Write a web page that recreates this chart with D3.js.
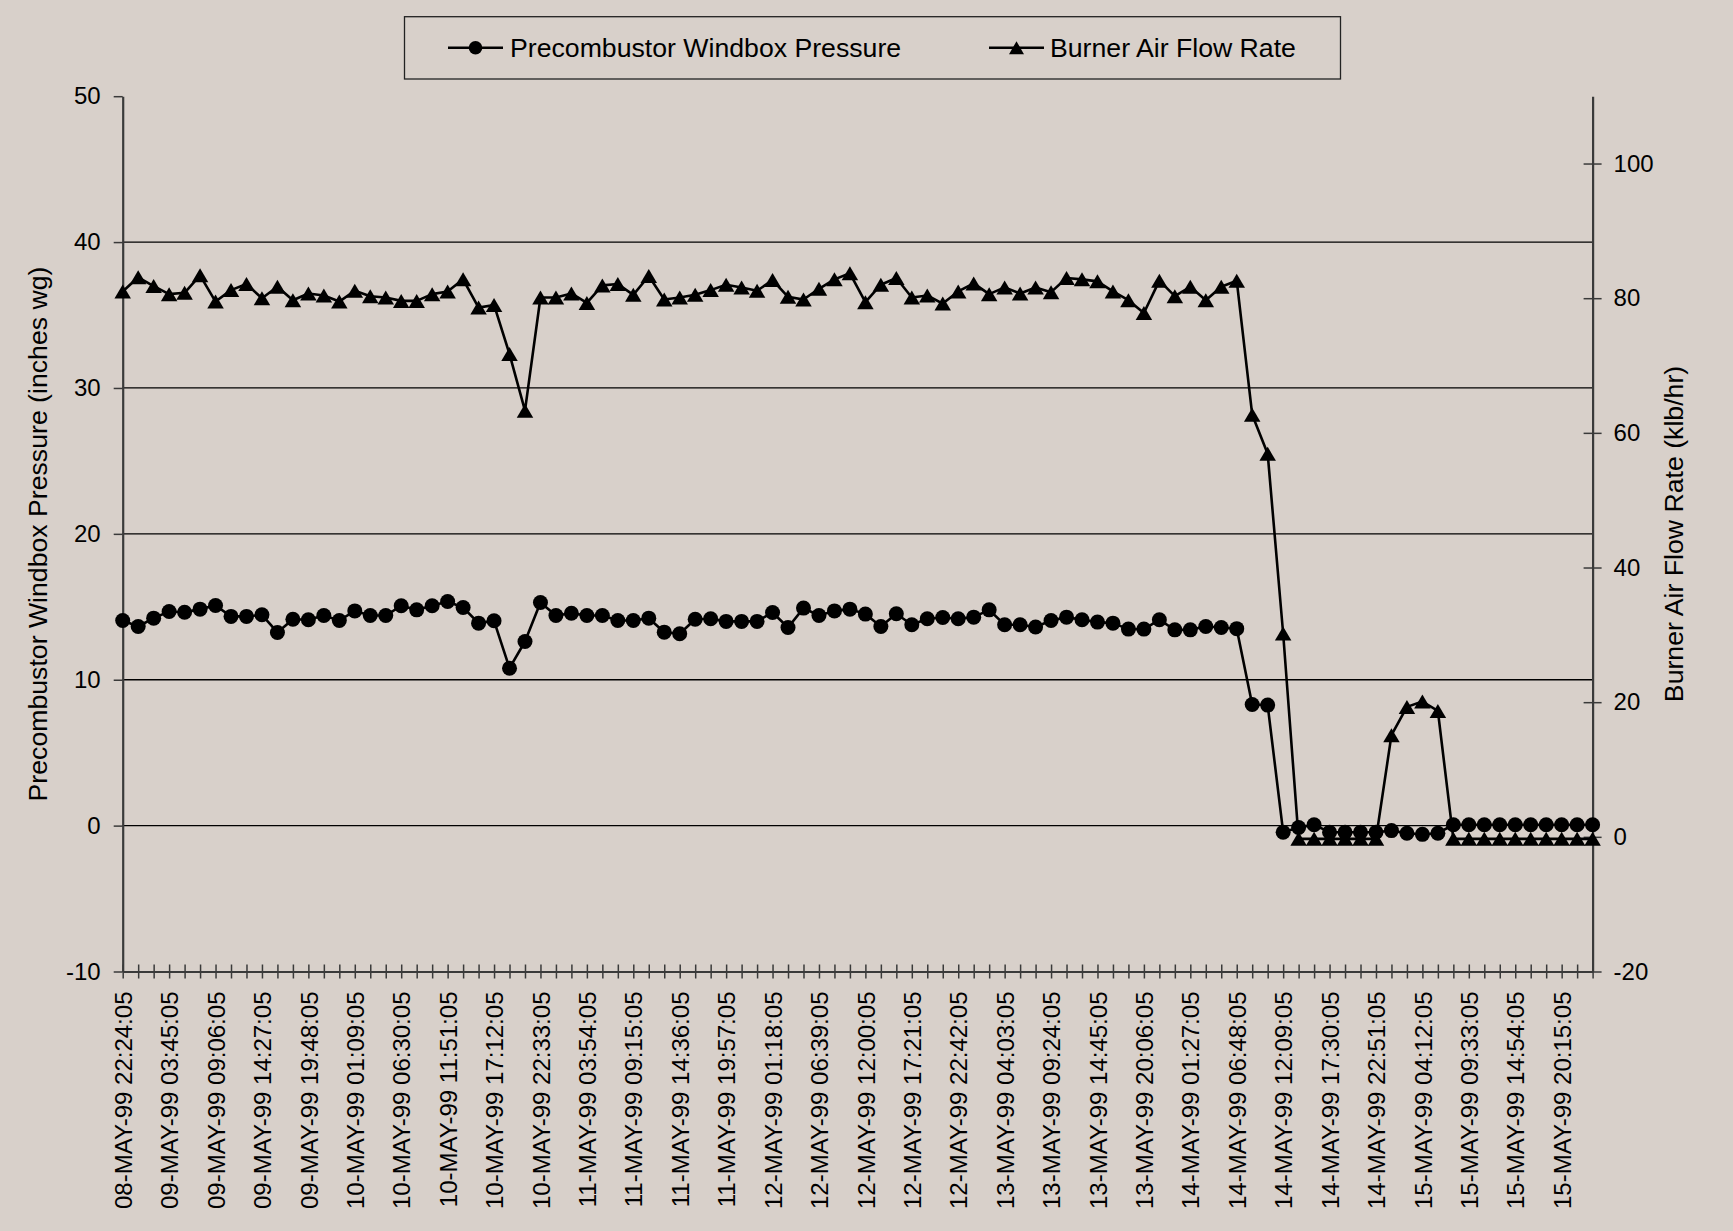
<!DOCTYPE html>
<html>
<head>
<meta charset="utf-8">
<script src="https://cdn.jsdelivr.net/npm/d3@7"></script>
<style>
  html, body { margin: 0; padding: 0; background: #D8D0CA; }
  svg { display: block; }
  text { font-family: "Liberation Sans", Arial, sans-serif; fill: #000; }
</style>
</head>
<body>
<svg id="chart" width="1733" height="1231"></svg>
<script>
// Sample timestamps (every 1 h 47 min)
const categories = [
  "08-MAY-99 22:24:05","09-MAY-99 00:11:05","09-MAY-99 01:58:05","09-MAY-99 03:45:05",
  "09-MAY-99 05:32:05","09-MAY-99 07:19:05","09-MAY-99 09:06:05","09-MAY-99 10:53:05",
  "09-MAY-99 12:40:05","09-MAY-99 14:27:05","09-MAY-99 16:14:05","09-MAY-99 18:01:05",
  "09-MAY-99 19:48:05","09-MAY-99 21:35:05","09-MAY-99 23:22:05","10-MAY-99 01:09:05",
  "10-MAY-99 02:56:05","10-MAY-99 04:43:05","10-MAY-99 06:30:05","10-MAY-99 08:17:05",
  "10-MAY-99 10:04:05","10-MAY-99 11:51:05","10-MAY-99 13:38:05","10-MAY-99 15:25:05",
  "10-MAY-99 17:12:05","10-MAY-99 18:59:05","10-MAY-99 20:46:05","10-MAY-99 22:33:05",
  "11-MAY-99 00:20:05","11-MAY-99 02:07:05","11-MAY-99 03:54:05","11-MAY-99 05:41:05",
  "11-MAY-99 07:28:05","11-MAY-99 09:15:05","11-MAY-99 11:02:05","11-MAY-99 12:49:05",
  "11-MAY-99 14:36:05","11-MAY-99 16:23:05","11-MAY-99 18:10:05","11-MAY-99 19:57:05",
  "11-MAY-99 21:44:05","11-MAY-99 23:31:05","12-MAY-99 01:18:05","12-MAY-99 03:05:05",
  "12-MAY-99 04:52:05","12-MAY-99 06:39:05","12-MAY-99 08:26:05","12-MAY-99 10:13:05",
  "12-MAY-99 12:00:05","12-MAY-99 13:47:05","12-MAY-99 15:34:05","12-MAY-99 17:21:05",
  "12-MAY-99 19:08:05","12-MAY-99 20:55:05","12-MAY-99 22:42:05","13-MAY-99 00:29:05",
  "13-MAY-99 02:16:05","13-MAY-99 04:03:05","13-MAY-99 05:50:05","13-MAY-99 07:37:05",
  "13-MAY-99 09:24:05","13-MAY-99 11:11:05","13-MAY-99 12:58:05","13-MAY-99 14:45:05",
  "13-MAY-99 16:32:05","13-MAY-99 18:19:05","13-MAY-99 20:06:05","13-MAY-99 21:53:05",
  "13-MAY-99 23:40:05","14-MAY-99 01:27:05","14-MAY-99 03:14:05","14-MAY-99 05:01:05",
  "14-MAY-99 06:48:05","14-MAY-99 08:35:05","14-MAY-99 10:22:05","14-MAY-99 12:09:05",
  "14-MAY-99 13:56:05","14-MAY-99 15:43:05","14-MAY-99 17:30:05","14-MAY-99 19:17:05",
  "14-MAY-99 21:04:05","14-MAY-99 22:51:05","15-MAY-99 00:38:05","15-MAY-99 02:25:05",
  "15-MAY-99 04:12:05","15-MAY-99 05:59:05","15-MAY-99 07:46:05","15-MAY-99 09:33:05",
  "15-MAY-99 11:20:05","15-MAY-99 13:07:05","15-MAY-99 14:54:05","15-MAY-99 16:41:05",
  "15-MAY-99 18:28:05","15-MAY-99 20:15:05","15-MAY-99 22:02:05","15-MAY-99 23:49:05"
];

// Precombustor windbox pressure, inches wg (left axis)
const windboxPressure = [
  14.06, 13.65, 14.22, 14.68, 14.63, 14.84, 15.09, 14.34, 14.34, 14.45,
  13.24, 14.15, 14.11, 14.40, 14.06, 14.72, 14.40, 14.40, 15.07, 14.79,
  15.07, 15.36, 14.95, 13.88, 14.04, 10.79, 12.62, 15.29, 14.40, 14.56,
  14.40, 14.40, 14.06, 14.06, 14.22, 13.26, 13.15, 14.15, 14.18, 14.00,
  14.00, 14.00, 14.61, 13.58, 14.91, 14.40, 14.72, 14.84, 14.50, 13.65,
  14.52, 13.77, 14.18, 14.27, 14.18, 14.29, 14.79, 13.77, 13.77, 13.61,
  14.06, 14.29, 14.11, 13.95, 13.88, 13.47, 13.47, 14.11, 13.42, 13.42,
  13.65, 13.58, 13.50, 8.30, 8.26, -0.45, -0.13, 0.06, -0.45, -0.45,
  -0.45, -0.45, -0.34, -0.52, -0.60, -0.52, 0.06, 0.06, 0.06, 0.06,
  0.06, 0.06, 0.06, 0.06, 0.06, 0.06
];

// Burner air flow rate, klb/hr (right axis)
const burnerAirFlow = [
  81.0, 83.1, 81.8, 80.6, 80.8, 83.4, 79.5, 81.2, 82.1, 80.0,
  81.7, 79.7, 80.7, 80.4, 79.5, 81.1, 80.3, 80.1, 79.6, 79.6,
  80.6, 81.0, 82.8, 78.6, 79.0, 71.7, 63.3, 80.1, 80.1, 80.7,
  79.3, 81.9, 82.1, 80.5, 83.3, 79.8, 80.1, 80.5, 81.2, 82.0,
  81.6, 81.1, 82.7, 80.2, 79.8, 81.4, 82.8, 83.7, 79.4, 82.0,
  83.0, 80.1, 80.4, 79.2, 81.0, 82.2, 80.6, 81.6, 80.7, 81.6,
  80.9, 83.0, 82.8, 82.5, 81.0, 79.7, 77.8, 82.6, 80.3, 81.7,
  79.7, 81.7, 82.6, 62.7, 56.9, 30.2, -0.3, -0.3, -0.3, -0.3,
  -0.3, -0.3, 15.1, 19.3, 20.1, 18.7, -0.3, -0.3, -0.3, -0.3,
  -0.3, -0.3, -0.3, -0.3, -0.3, -0.3
];

const leftTicks = [-10, 0, 10, 20, 30, 40, 50];
const rightTicks = [-20, 0, 20, 40, 60, 80, 100];
const gridValues = [0, 10, 20, 30, 40];
const seriesNames = ["Precombustor Windbox Pressure", "Burner Air Flow Rate"];

const svg = d3.select("#chart");
const plot = { left: 122.7, right: 1592.6, top: 96.2, bottom: 971.5 };

const x = d3.scalePoint().domain(categories).range([plot.left, plot.right]);
const yL = d3.scaleLinear().domain([-10, 50]).range([plot.bottom, plot.top]);
const yR = d3.scaleLinear().domain([-20, 110]).range([plot.bottom, plot.top]);

const axisColor = "#3a3a3a";
const plainNumber = d => String(d); // ASCII hyphen for negatives

// horizontal gridlines
svg.append("g").selectAll("line").data(gridValues).join("line")
  .attr("x1", plot.left).attr("x2", plot.right)
  .attr("y1", d => yL(d)).attr("y2", d => yL(d))
  .attr("stroke", "#000").attr("stroke-width", 1.3);

// left axis
const gLeft = svg.append("g").attr("transform", `translate(${plot.left},0)`)
  .call(d3.axisLeft(yL).tickValues(leftTicks).tickFormat(plainNumber)
    .tickSizeInner(9).tickSizeOuter(0).tickPadding(13));
// right axis
const gRight = svg.append("g").attr("transform", `translate(${plot.right},0)`)
  .call(d3.axisRight(yR).tickValues(rightTicks).tickFormat(plainNumber)
    .tickSizeInner(9).tickSizeOuter(0).tickPadding(12));
gRight.selectAll(".tick line").attr("x1", -9);
// bottom axis
const gBottom = svg.append("g").attr("transform", `translate(0,${plot.bottom})`)
  .call(d3.axisBottom(x).tickValues(categories).tickSizeInner(7).tickSizeOuter(0)
    .tickFormat((d, i) => (i % 3 === 0 ? d : "")));
gBottom.selectAll(".tick line").attr("y1", -7);
gBottom.selectAll(".tick text")
  .attr("transform", "rotate(-90)")
  .attr("x", -20).attr("y", 0).attr("dy", "0.36em")
  .style("text-anchor", "end");

[gLeft, gRight, gBottom].forEach(g => {
  g.select(".domain").attr("stroke", axisColor).attr("stroke-width", 2.2);
  g.selectAll(".tick line").attr("stroke", axisColor).attr("stroke-width", 1.5);
  g.selectAll(".tick text").attr("font-size", 24).attr("font-family", '"Liberation Sans", Arial, sans-serif').attr("fill", "#000");
});

// axis titles
svg.append("text")
  .attr("transform", `translate(46.5,534) rotate(-90)`)
  .attr("text-anchor", "middle").attr("font-size", 26.67)
  .text("Precombustor Windbox Pressure (inches wg)");
svg.append("text")
  .attr("transform", `translate(1683,534) rotate(-90)`)
  .attr("text-anchor", "middle").attr("font-size", 26.67)
  .text("Burner Air Flow Rate (klb/hr)");

// marker shapes
const triPath = (w, h) => `M0,${-h / 2}L${w / 2},${h / 2}L${-w / 2},${h / 2}Z`;

// series: windbox pressure (circles, left axis)
const linePress = d3.line().x((d, i) => x(categories[i])).y(d => yL(d));
svg.append("path").datum(windboxPressure)
  .attr("d", linePress).attr("fill", "none").attr("stroke", "#000")
  .attr("stroke-width", 2.6).attr("stroke-linejoin", "round");
svg.append("g").selectAll("circle").data(windboxPressure).join("circle")
  .attr("cx", (d, i) => x(categories[i])).attr("cy", d => yL(d))
  .attr("r", 7.5).attr("fill", "#000");

// series: burner air flow (triangles, right axis)
const lineFlow = d3.line().x((d, i) => x(categories[i])).y(d => yR(d));
svg.append("path").datum(burnerAirFlow)
  .attr("d", lineFlow).attr("fill", "none").attr("stroke", "#000")
  .attr("stroke-width", 2.6).attr("stroke-linejoin", "round");
svg.append("g").selectAll("path").data(burnerAirFlow).join("path")
  .attr("transform", (d, i) => `translate(${x(categories[i])},${yR(d)})`)
  .attr("d", triPath(16.5, 14)).attr("fill", "#000");

// legend
const legend = svg.append("g");
legend.append("rect")
  .attr("x", 404.5).attr("y", 16.7).attr("width", 936).attr("height", 62.3)
  .attr("fill", "none").attr("stroke", "#222").attr("stroke-width", 1.3);
const legendY = 47.8;
const legendItems = [
  { name: seriesNames[0], x0: 448, x1: 503, tx: 510, marker: "circle" },
  { name: seriesNames[1], x0: 989, x1: 1044, tx: 1050, marker: "triangle" }
];
legendItems.forEach(it => {
  legend.append("line").attr("x1", it.x0).attr("x2", it.x1)
    .attr("y1", legendY).attr("y2", legendY)
    .attr("stroke", "#000").attr("stroke-width", 2.6);
  const cx = (it.x0 + it.x1) / 2;
  if (it.marker === "circle") {
    legend.append("circle").attr("cx", cx).attr("cy", legendY).attr("r", 6.8).attr("fill", "#000");
  } else {
    legend.append("path").attr("transform", `translate(${cx},${legendY})`)
      .attr("d", triPath(15, 13)).attr("fill", "#000");
  }
  legend.append("text").attr("x", it.tx).attr("y", legendY).attr("dy", "0.35em")
    .attr("font-size", 26.67).text(it.name);
});
</script>
</body>
</html>
